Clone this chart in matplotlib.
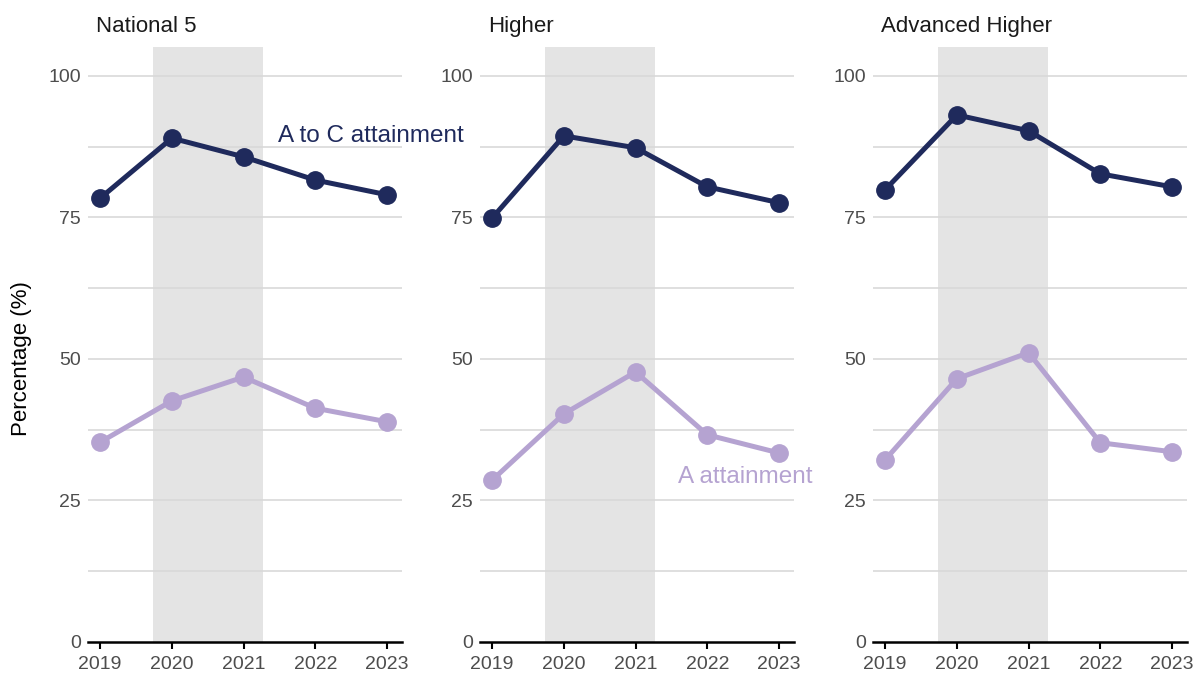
import matplotlib
matplotlib.use("Agg")
import matplotlib.pyplot as plt

plt.rcParams['font.family'] = ['Liberation Sans', 'DejaVu Sans']

years = [2019, 2020, 2021, 2022, 2023]
panels = ["National 5", "Higher", "Advanced Higher"]

# A to C attainment (%)
a_to_c = {
    "National 5": [78.4, 89.0, 85.7, 81.6, 79.0],
    "Higher": [74.9, 89.4, 87.3, 80.4, 77.6],
    "Advanced Higher": [79.9, 93.1, 90.3, 82.7, 80.4],
}
# A attainment (%)
a_only = {
    "National 5": [35.3, 42.6, 46.8, 41.3, 38.9],
    "Higher": [28.6, 40.3, 47.7, 36.6, 33.4],
    "Advanced Higher": [32.2, 46.5, 51.1, 35.2, 33.6],
}

navy = "#1f2a5c"
lavender = "#b5a3d1"
shade = "#e4e4e4"
grid_col = "#d9d9d9"
tick_col = "#4d4d4d"

fig = plt.figure(figsize=(11.99, 6.78), dpi=100)

lefts = [88, 480, 873]
width = 314 / 1199
bottom = 1 - 642 / 678
height = (642 - 47) / 678

for i, name in enumerate(panels):
    ax = fig.add_axes([lefts[i] / 1199, bottom, width, height])
    ax.axvspan(2019.74, 2021.27, color=shade, zorder=0, lw=0)
    for g in [12.5, 25, 37.5, 50, 62.5, 75, 87.5, 100]:
        ax.axhline(g, color=grid_col, lw=1.2, zorder=0.5)
    ax.plot(years, a_to_c[name], color=navy, lw=3.6, marker='o', ms=12.5, zorder=3)
    ax.plot(years, a_only[name], color=lavender, lw=3.6, marker='o', ms=12.5, zorder=3)

    ax.set_xlim(2018.83, 2023.21)
    ax.set_ylim(0, 105.1)
    ax.set_xticks(years)
    ax.set_xticklabels([str(y) for y in years])
    ax.set_yticks([0, 25, 50, 75, 100])
    ax.tick_params(axis='y', length=0, pad=5, labelsize=14, labelcolor=tick_col)
    ax.tick_params(axis='x', length=5, width=1.5, color='black', pad=5,
                   labelsize=14, labelcolor=tick_col)
    for s in ['top', 'right', 'left']:
        ax.spines[s].set_visible(False)
    ax.spines['bottom'].set_linewidth(1.8)
    ax.spines['bottom'].set_color('black')
    ax.spines['bottom'].set_zorder(4)
    ax.set_facecolor('none')
    ax.text(0.025, 1.034, name, transform=ax.transAxes, ha='left', va='center',
            fontsize=16, color='#1a1a1a')

    if i == 0:
        ax.text(2021.48, 89.3, "A to C attainment", color=navy, fontsize=17.5,
                ha='left', va='center', clip_on=False, zorder=5)
    if i == 1:
        ax.text(2021.59, 29.2, "A attainment", color=lavender, fontsize=17.5,
                ha='left', va='center', clip_on=False, zorder=5)

fig.text(22 / 1199, 1 - 359 / 678, "Percentage (%)", rotation=90,
         ha='center', va='center', fontsize=16, color='black')

fig.savefig("out.png", dpi=100)
